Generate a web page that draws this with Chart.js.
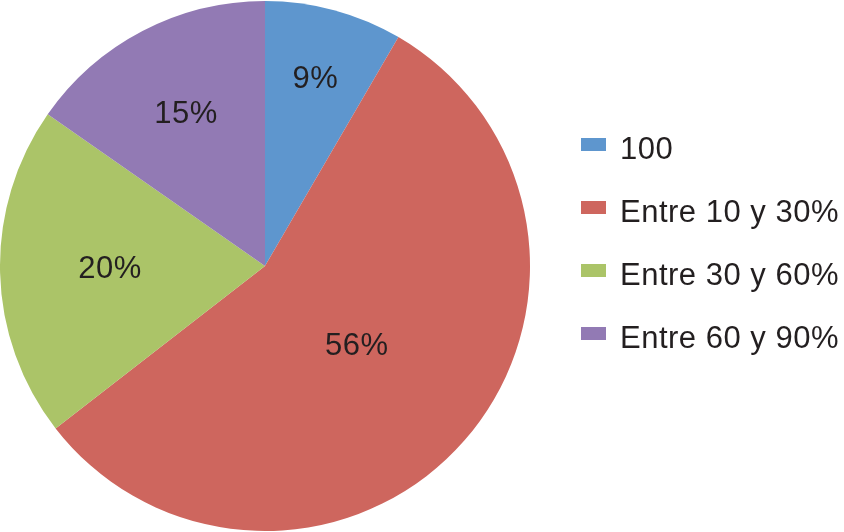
<!DOCTYPE html>
<html>
<head>
<meta charset="utf-8">
<script src="https://cdn.jsdelivr.net/npm/chart.js@4"></script>
<style>
    html, body { margin: 0; padding: 0; background: #fff; }
    #wrap { width: 844px; height: 532px; }
</style>
</head>
<body>
<div id="wrap"><canvas id="pieChart"></canvas></div>
<script>
const categories = ['100', 'Entre 10 y 30%', 'Entre 30 y 60%', 'Entre 60 y 90%'];
// slice sizes
const values = [8.4, 56.1, 20.2, 15.3];
// labels as printed on the slices
const pctLabels = ['9%', '56%', '20%', '15%'];
const colors = ['#5E96CE', '#CE665E', '#ABC468', '#927AB4'];
// how far out each percentage label sits (fraction of radius)
const labelRadius = [0.73, 0.46, 0.585, 0.645];

const FONT = "'Liberation Sans', Arial, Helvetica, sans-serif";
const TEXT = '#231F20';

// percentage labels inside slices
const sliceLabels = {
    id: 'sliceLabels',
    afterDatasetsDraw(chart) {
        const ctx = chart.ctx;
        const meta = chart.getDatasetMeta(0);
        ctx.save();
        ctx.font = '31px ' + FONT;
        ctx.letterSpacing = '0.5px';
        ctx.fillStyle = TEXT;
        ctx.textAlign = 'center';
        ctx.textBaseline = 'middle';
        meta.data.forEach((arc, i) => {
            const p = arc.getProps(['x', 'y', 'startAngle', 'endAngle', 'outerRadius'], true);
            const mid = (p.startAngle + p.endAngle) / 2;
            const r = p.outerRadius * labelRadius[i];
            ctx.fillText(pctLabels[i], p.x + Math.cos(mid) * r, p.y + Math.sin(mid) * r);
        });
        ctx.restore();
    }
};

// legend on the right, Excel style
const sideLegend = {
    id: 'sideLegend',
    afterDraw(chart) {
        const ctx = chart.ctx;
        const area = chart.chartArea;
        const x = area.right + 51;
        const midY = (area.top + area.bottom) / 2;
        const rowGap = 63;
        const firstRow = midY - 27 - rowGap * (categories.length - 1) / 2;
        ctx.save();
        ctx.font = '31px ' + FONT;
        ctx.letterSpacing = '0.5px';
        ctx.textAlign = 'left';
        ctx.textBaseline = 'alphabetic';
        categories.forEach((label, i) => {
            const cy = firstRow + i * rowGap;
            ctx.fillStyle = colors[i];
            ctx.fillRect(x, cy - 6.5, 25, 13);
            ctx.fillStyle = TEXT;
            ctx.fillText(label, x + 39, cy + 14);
        });
        ctx.restore();
    }
};

new Chart(document.getElementById('pieChart'), {
    type: 'pie',
    data: {
        labels: categories,
        datasets: [{
            data: values,
            backgroundColor: colors,
            borderWidth: 0
        }]
    },
    options: {
        responsive: true,
        maintainAspectRatio: false,
        animation: false,
        layout: { padding: { left: 0, top: 0, bottom: 0, right: 314 } },
        plugins: {
            legend: { display: false },
            tooltip: { enabled: false }
        }
    },
    plugins: [sliceLabels, sideLegend]
});
</script>
</body>
</html>
